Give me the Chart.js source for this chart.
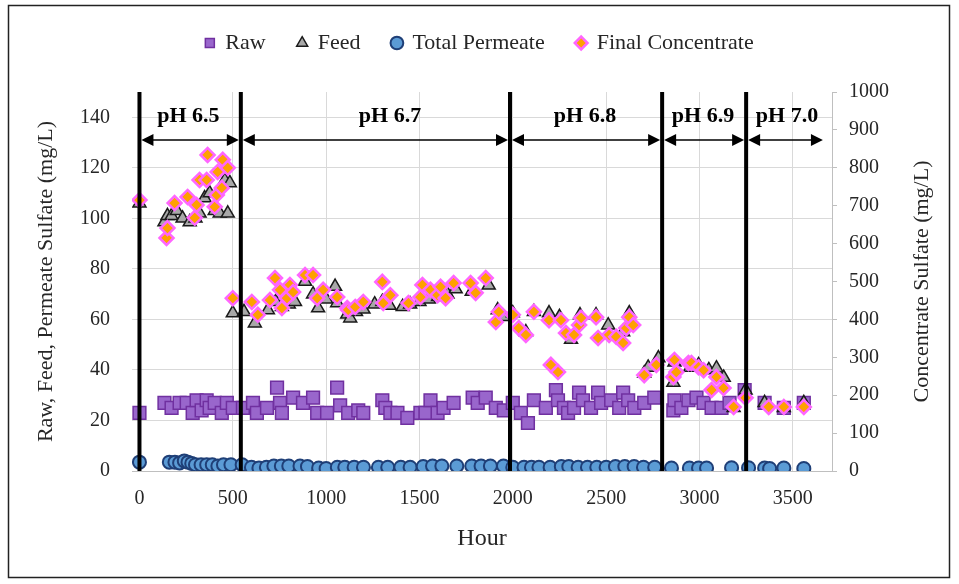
<!DOCTYPE html>
<html>
<head>
<meta charset="utf-8">
<script src="https://cdn.jsdelivr.net/npm/chart.js@4.4.0/dist/chart.umd.min.js"></script>
<style>
  html, body { margin: 0; padding: 0; background: #fff; }
</style>
</head>
<body>
<canvas id="sulfateChart" width="959" height="584"></canvas>
<script>
// hours and sulfate values
let rawHours = [0, 134, 172, 215, 253, 285, 306, 333, 360, 376, 403, 441, 468, 500, 554, 608, 629, 683, 737, 753, 763, 823, 876, 930, 952, 1005, 1059, 1075, 1118, 1172, 1199, 1301, 1317, 1344, 1382, 1435, 1505, 1532, 1559, 1597, 1629, 1683, 1785, 1812, 1855, 1909, 1952, 2000, 2043, 2081, 2113, 2177, 2231, 2242, 2274, 2296, 2328, 2355, 2376, 2419, 2457, 2473, 2527, 2570, 2591, 2618, 2651, 2704, 2758, 2860, 2866, 2903, 2941, 2984, 3022, 3065, 3118, 3161, 3242, 3349, 3452, 3559];
let rawValues = [23, 27, 25, 27, 27, 23, 28, 24, 28, 25, 27, 23, 27, 25, 25, 27, 23, 25, 33, 27, 23, 29, 27, 29, 23, 23, 33, 26, 23, 24, 23, 28, 25, 23, 23, 21, 23, 23, 28, 23, 25, 27, 29, 27, 29, 25, 24, 27, 23, 19, 28, 25, 32, 28, 25, 23, 25, 31, 28, 25, 31, 27, 28, 25, 31, 28, 25, 27, 29, 24, 28, 25, 28, 29, 27, 25, 25, 27, 32, 27, 25, 27];

let feedHours = [0, 134, 150, 172, 200, 231, 269, 300, 322, 349, 376, 403, 430, 457, 473, 484, 500, 560, 618, 688, 730, 763, 800, 833, 887, 930, 957, 1000, 1048, 1059, 1113, 1129, 1160, 1200, 1260, 1301, 1340, 1410, 1450, 1500, 1550, 1600, 1650, 1694, 1780, 1871, 1919, 1950, 2000, 2070, 2113, 2194, 2250, 2312, 2360, 2446, 2511, 2591, 2624, 2704, 2725, 2780, 2860, 2866, 2950, 2995, 3050, 3091, 3130, 3183, 3247, 3349, 3452, 3559];
let feedValues = [106, 98.5, 101, 101, 103, 100, 98.5, 100, 102, 108, 110, 103, 102, 115, 102, 114, 62.5, 63, 58.5, 63.7, 67, 65, 66, 67, 75, 70, 64.5, 68, 73, 66.5, 62, 60.5, 63, 64, 66, 67, 65.5, 65, 66, 67, 68, 69, 70, 72, 71, 73.5, 63.7, 61, 62.5, 55, 63, 62.5, 61, 52, 61.7, 61.7, 57.7, 55, 62.5, 38.7, 41, 44.7, 35, 43, 41, 42, 40, 40.7, 37, 25, 32, 27, 25, 27];

let permHours = [0, 160, 190, 215, 240, 260, 280, 300, 330, 360, 390, 420, 450, 490, 550, 600, 640, 680, 720, 760, 800, 860, 900, 960, 1000, 1060, 1100, 1150, 1200, 1280, 1330, 1400, 1450, 1520, 1570, 1620, 1700, 1780, 1830, 1880, 1950, 2000, 2060, 2100, 2140, 2200, 2260, 2300, 2350, 2400, 2450, 2500, 2550, 2600, 2650, 2700, 2760, 2850, 2946, 2995, 3038, 3172, 3263, 3349, 3376, 3452, 3559];
let permValues = [3.5, 3.5, 3.5, 3.2, 4, 3.5, 3, 2.5, 2.5, 2.5, 2.5, 2, 2.5, 2.5, 2.5, 1.5, 1.2, 1.5, 2, 2, 2, 2, 1.8, 1.2, 1, 1.5, 1.5, 1.5, 1.5, 1.5, 1.5, 1.5, 1.5, 1.8, 2, 2, 2, 2, 2, 2, 2, 1.5, 1.5, 1.5, 1.5, 1.5, 1.8, 1.8, 1.5, 1.5, 1.5, 1.5, 1.8, 1.8, 1.8, 1.5, 1.5, 1.2, 1.2, 1.2, 1.2, 1.3, 1.3, 1.2, 1, 1.2, 1];

let concHours = [0, 145, 150, 188, 258, 296, 306, 322, 360, 365, 403, 414, 419, 441, 446, 473, 500, 602, 634, 699, 726, 753, 763, 790, 806, 823, 887, 930, 952, 984, 1059, 1113, 1118, 1156, 1199, 1301, 1306, 1344, 1441, 1505, 1516, 1559, 1597, 1613, 1640, 1683, 1774, 1801, 1855, 1909, 1925, 2000, 2032, 2070, 2113, 2194, 2204, 2242, 2258, 2285, 2328, 2355, 2366, 2446, 2457, 2516, 2554, 2591, 2608, 2624, 2645, 2704, 2769, 2860, 2866, 2876, 2941, 2957, 2995, 3022, 3065, 3091, 3129, 3183, 3247, 3371, 3452, 3559];
let concValues = [715, 615, 641, 707, 723, 668, 702, 768, 768, 834, 697, 728, 789, 747, 821, 800, 456, 446, 412, 451, 509, 478, 430, 456, 491, 472, 517, 517, 456, 478, 459, 430, 425, 433, 446, 499, 443, 464, 443, 459, 491, 478, 464, 486, 456, 496, 496, 470, 509, 393, 420, 412, 377, 359, 420, 398, 280, 261, 398, 364, 359, 385, 404, 406, 351, 359, 354, 338, 377, 406, 385, 253, 280, 248, 293, 261, 285, 285, 274, 266, 214, 248, 219, 169, 193, 169, 169, 169];

// pH periods
let phLabels = ['pH 6.5', 'pH 6.7', 'pH 6.8', 'pH 6.9', 'pH 7.0'];
let phStarts = [0, 543, 1985, 2800, 3250];
let phEnds = [543, 1985, 2800, 3250, 3672];
let phLabelHours = [262, 1342, 2387, 3019, 3469];
let xTicks = [0, 500, 1000, 1500, 2000, 2500, 3000, 3500];

let serif = "'Liberation Serif', 'Times New Roman', serif";

function toPoints(hours, values) {
    return hours.map((h, i) => ({ x: h, y: values[i] }));
}

let frameBox = {
    id: 'frameBox',
    beforeInit(chart) {
        if (!chart.legend) return;
        let fitLegend = chart.legend.fit;
        chart.legend.fit = function () {
            fitLegend.bind(chart.legend)();
            this.height += 28;
        };
    },
    beforeDraw(chart) {
        let ctx = chart.ctx;
        ctx.save();
        ctx.fillStyle = '#fff';
        ctx.fillRect(0, 0, chart.width, chart.height);
        ctx.strokeStyle = '#222';
        ctx.lineWidth = 1.5;
        ctx.strokeRect(8.5, 5.5, 941, 572);
        ctx.restore();
    }
};

let phMarks = {
    id: 'phMarks',
    afterDatasetsDraw(chart) {
        let ctx = chart.ctx;
        let x = chart.scales.x;
        let y = chart.scales.y;
        let area = chart.chartArea;
        ctx.save();
        // period boundaries
        ctx.strokeStyle = '#000';
        ctx.lineWidth = 4;
        phStarts.forEach(h => {
            let px = x.getPixelForValue(h);
            ctx.beginPath();
            ctx.moveTo(px, area.top);
            ctx.lineTo(px, y.getPixelForValue(0));
            ctx.stroke();
        });
        // double arrows and labels
        let ay = y.getPixelForValue(131);
        ctx.fillStyle = '#000';
        ctx.lineWidth = 1.5;
        ctx.font = 'bold 22px ' + serif;
        ctx.textAlign = 'center';
        ctx.textBaseline = 'middle';
        phLabels.forEach((label, i) => {
            let x1 = x.getPixelForValue(phStarts[i]) + 2;
            let x2 = x.getPixelForValue(phEnds[i]) - 2;
            ctx.beginPath();
            ctx.moveTo(x1 + 8, ay);
            ctx.lineTo(x2 - 8, ay);
            ctx.stroke();
            ctx.beginPath();
            ctx.moveTo(x1, ay);
            ctx.lineTo(x1 + 12, ay - 6);
            ctx.lineTo(x1 + 12, ay + 6);
            ctx.closePath();
            ctx.fill();
            ctx.beginPath();
            ctx.moveTo(x2, ay);
            ctx.lineTo(x2 - 12, ay - 6);
            ctx.lineTo(x2 - 12, ay + 6);
            ctx.closePath();
            ctx.fill();
            ctx.fillText(label, x.getPixelForValue(phLabelHours[i]), y.getPixelForValue(140.3));
        });
        // right axis title, reading bottom to top
        ctx.font = '22px ' + serif;
        ctx.fillStyle = '#262626';
        ctx.translate(922, (area.top + area.bottom) / 2);
        ctx.rotate(-Math.PI / 2);
        ctx.fillText('Concentrate Sulfate (mg/L)', 0, 0);
        ctx.restore();
    }
};

let plainNumber = value => String(value);

let ctx = document.getElementById('sulfateChart').getContext('2d');
new Chart(ctx, {
    type: 'scatter',
    data: {
        datasets: [
            {
                label: 'Raw',
                data: toPoints(rawHours, rawValues),
                yAxisID: 'y',
                pointStyle: 'rect',
                pointRadius: 9,
                backgroundColor: '#9966cc',
                borderColor: '#7030a0',
                borderWidth: 1.5,
                order: 2
            },
            {
                label: 'Feed',
                data: toPoints(feedHours, feedValues),
                yAxisID: 'y',
                pointStyle: 'triangle',
                pointRadius: 7.5,
                backgroundColor: '#a8a8a8',
                borderColor: '#1a1a1a',
                borderWidth: 1.5,
                order: 1
            },
            {
                label: 'Total Permeate',
                data: toPoints(permHours, permValues),
                yAxisID: 'y',
                pointStyle: 'circle',
                pointRadius: 6.5,
                backgroundColor: '#5b9bd5',
                borderColor: '#1f3f77',
                borderWidth: 2,
                order: 3
            },
            {
                label: 'Final Concentrate',
                data: toPoints(concHours, concValues),
                yAxisID: 'y2',
                pointStyle: 'rectRot',
                pointRadius: 7,
                backgroundColor: '#ffa000',
                borderColor: '#ff66ff',
                borderWidth: 2.5,
                order: 0
            }
        ]
    },
    options: {
        responsive: false,
        animation: false,
        devicePixelRatio: 1,
        layout: { padding: { top: 0, left: 0, right: 0, bottom: 0 } },
        plugins: {
            legend: {
                position: 'top',
                labels: {
                    usePointStyle: true,
                    boxWidth: 9,
                    boxHeight: 9,
                    padding: 32,
                    color: '#262626',
                    font: { family: serif, size: 22 },
                    sort: (a, b) => a.datasetIndex - b.datasetIndex
                }
            },
            tooltip: { enabled: false }
        },
        scales: {
            x: {
                type: 'linear',
                min: -40,
                max: 3710,
                afterFit: scale => { scale.height = 113; },
                afterBuildTicks: scale => { scale.ticks = xTicks.map(v => ({ value: v })); },
                grid: { color: '#d9d9d9', drawTicks: false },
                border: { color: '#bfbfbf' },
                ticks: {
                    padding: 16,
                    color: '#262626',
                    callback: plainNumber,
                    font: { family: serif, size: 20 }
                },
                title: {
                    display: true,
                    text: 'Hour',
                    color: '#262626',
                    font: { family: serif, size: 24 },
                    padding: { top: 0, bottom: 31 }
                }
            },
            y: {
                position: 'left',
                min: 0,
                max: 150,
                afterFit: scale => { scale.width = 132; },
                afterBuildTicks: scale => {
                    scale.ticks = [0, 20, 40, 60, 80, 100, 120, 140].map(v => ({ value: v }));
                },
                grid: { color: '#d9d9d9', drawTicks: false },
                border: { display: false },
                ticks: {
                    padding: 22,
                    color: '#262626',
                    callback: plainNumber,
                    font: { family: serif, size: 20 }
                },
                title: {
                    display: true,
                    text: 'Raw, Feed, Permeate Sulfate (mg/L)',
                    color: '#262626',
                    font: { family: serif, size: 22 },
                    padding: { top: 33, bottom: 0 }
                }
            },
            y2: {
                position: 'right',
                min: 0,
                max: 1000,
                afterFit: scale => { scale.width = 127; },
                grid: { drawOnChartArea: false, color: '#bfbfbf', tickLength: 5 },
                border: { color: '#bfbfbf' },
                ticks: {
                    stepSize: 100,
                    padding: 12,
                    color: '#262626',
                    callback: plainNumber,
                    font: { family: serif, size: 20 }
                }
            }
        }
    },
    plugins: [frameBox, phMarks]
});
</script>
</body>
</html>
